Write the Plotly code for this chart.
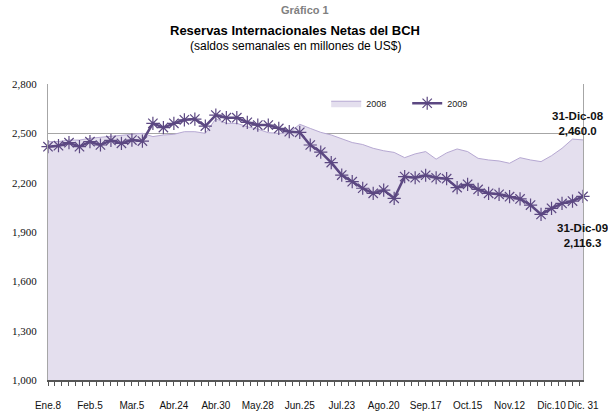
import plotly.graph_objects as go

# Weekly points (52 weeks)
tick_labels = ["Ene.8", "Feb.5", "Mar.5", "Abr.24", "Abr.30", "May.28", "Jun.25",
               "Jul.23", "Ago.20", "Sep.17", "Oct.15", "Nov.12", "Dic.10", "Dic. 31"]
tick_index = [0, 4, 8, 12, 16, 20, 24, 28, 32, 36, 40, 44, 48, 51]

reservas_2008 = [2449, 2450, 2459, 2459, 2470, 2475, 2480, 2486, 2494, 2500,
                 2480, 2490, 2494, 2510, 2510, 2500, 2589, 2561, 2561, 2540,
                 2526, 2504, 2500, 2504, 2555, 2530, 2506, 2490, 2466, 2444,
                 2432, 2409, 2394, 2384, 2352, 2375, 2389, 2343, 2381, 2405,
                 2389, 2348, 2338, 2332, 2318, 2352, 2338, 2328, 2364, 2409,
                 2465, 2460.0]

reservas_2009 = [2419, 2425, 2443, 2419, 2449, 2429, 2457, 2439, 2459, 2453,
                 2561, 2535, 2561, 2582, 2587, 2544, 2611, 2595, 2595, 2567,
                 2550, 2550, 2530, 2510, 2506, 2429, 2386, 2322, 2246, 2206,
                 2166, 2135, 2155, 2105, 2237, 2230, 2245, 2230, 2224, 2170,
                 2190, 2159, 2135, 2129, 2115, 2101, 2064, 2007, 2044, 2074,
                 2088, 2116.3]

weeks = list(range(len(reservas_2009)))

SANS = "Liberation Sans, Arial, sans-serif"
SERIF = "Liberation Serif, Times New Roman, serif"

fig = go.Figure()
fig.add_trace(go.Scatter(
    x=weeks, y=reservas_2008, name="2008", mode="lines",
    line=dict(color="#b6a8d2", width=1), fill="tozeroy", fillcolor="#e4dfee",
))
fig.add_trace(go.Scatter(
    x=weeks, y=reservas_2009, name="2009", mode="lines+markers",
    line=dict(color="#5c4882", width=2.5),
    marker=dict(symbol="asterisk-open", size=11,
                line=dict(color="#6c5a95", width=1.2)),
    cliponaxis=False,
))

last = len(weeks) - 1
fig.add_annotation(x=weeks[last], y=reservas_2008[last], xref="x", yref="y",
                   text=f"<b>31-Dic-08<br>{reservas_2008[last]:,.1f}</b>",
                   showarrow=False, xanchor="center", yanchor="bottom",
                   xshift=-5, yshift=1, align="center",
                   font=dict(family=SANS, size=11.5, color="#111"))
fig.add_annotation(x=weeks[last], y=reservas_2009[last], xref="x", yref="y",
                   text=f"<b>31-Dic-09<br>{reservas_2009[last]:,.1f}</b>",
                   showarrow=False, xanchor="center", yanchor="top",
                   xshift=-1, yshift=-24, align="center",
                   font=dict(family=SANS, size=11.5, color="#111"))

# Titles
fig.add_annotation(x=0.48, y=1.276, xref="paper", yref="paper", text="<b>Gráfico 1</b>",
                   showarrow=False, font=dict(family=SANS, size=11, color="#808080"))
fig.add_annotation(x=0.462, y=1.213, xref="paper", yref="paper",
                   text="<b>Reservas Internacionales Netas del BCH</b>",
                   showarrow=False, font=dict(family=SANS, size=13, color="#000"))
fig.add_annotation(x=0.462, y=1.159, xref="paper", yref="paper",
                   text="(saldos semanales en millones de US$)",
                   showarrow=False, font=dict(family=SANS, size=12, color="#000"))

fig.update_layout(
    width=608, height=414,
    margin=dict(l=48, r=25, t=84, b=34, autoexpand=False),
    paper_bgcolor="white", plot_bgcolor="white",
    showlegend=True,
    legend=dict(orientation="h", x=0.52, y=0.935, xanchor="left", yanchor="middle",
                bgcolor="rgba(0,0,0,0)", font=dict(family=SANS, size=9, color="#222"),
                itemwidth=30, entrywidth=36, tracegroupgap=0),
)
fig.update_xaxes(
    range=[0, last], tickmode="array", tickvals=tick_index, ticktext=tick_labels,
    automargin=False,
    showgrid=False, zeroline=False, showline=True, linecolor="#555", linewidth=1.5,
    ticks="", ticklabelstandoff=15, tickangle=0,
    tickfont=dict(family=SANS, size=10, color="#111"),
    minor=dict(tickmode="linear", tick0=0, dtick=2/3, ticks="outside", ticklen=4,
               tickcolor="#555", showgrid=False),
)
fig.update_yaxes(
    range=[1000, 2800], tickmode="linear", tick0=1000, dtick=300, tickformat=",d",
    automargin=False,
    showgrid=True, gridcolor="#a6a6a6", gridwidth=1.2, zeroline=False,
    showline=True, linecolor="#a6a6a6", linewidth=1.2, mirror=True,
    ticks="", ticklabelstandoff=8,
    tickfont=dict(family=SERIF, size=11, color="#111"),
)

fig.write_html("out.html", config={"displayModeBar": False},
               post_script="document.body.style.margin='0';document.body.style.overflow='hidden';")
